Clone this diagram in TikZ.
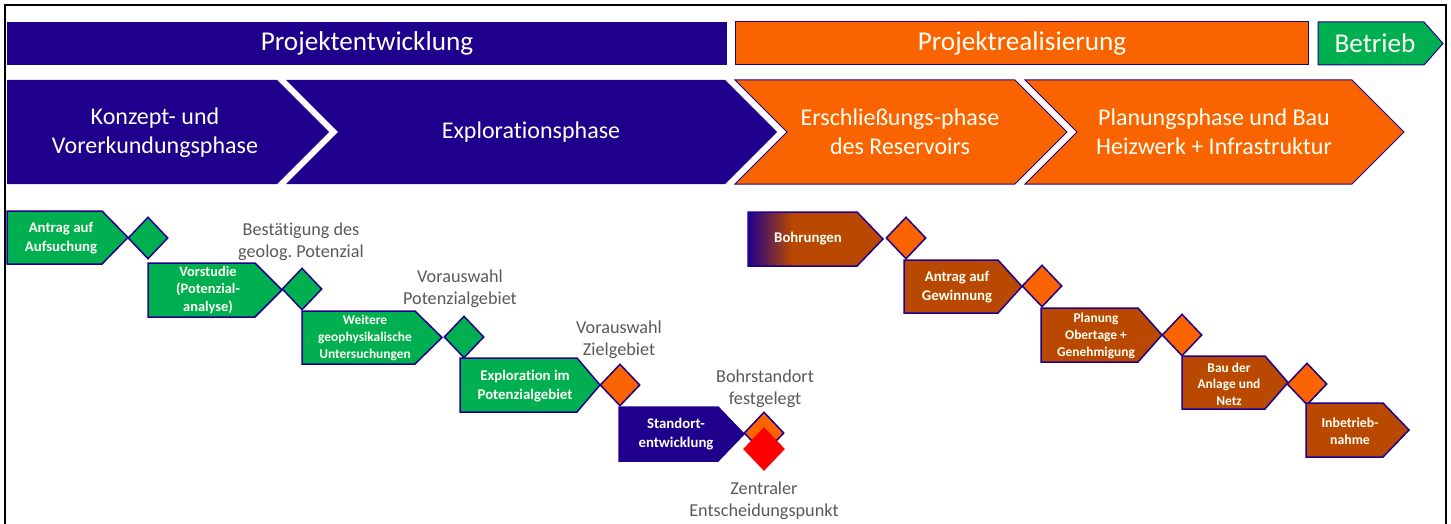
\documentclass[tikz,border=0pt]{standalone}
\usepackage{fontspec}
\setmainfont[Ligatures=NoCommon]{Carlito}
\usetikzlibrary{shapes.geometric}
\frenchspacing
\definecolor{db}{RGB}{30,0,140}
\definecolor{orng}{RGB}{250,100,0}
\definecolor{brwn}{RGB}{185,72,0}
\definecolor{grn}{RGB}{0,176,80}
\definecolor{rd}{RGB}{255,0,0}
\definecolor{gy}{RGB}{89,89,89}
\definecolor{wt}{RGB}{255,255,245}
\newcommand\stepshape[6]{\path[#1] (#2,#5) -- (#3,#5) -- (#4,{(#5+#6)/2}) -- (#3,#6) -- (#2,#6) -- cycle;}
\newcommand\chevshape[7]{\path[#1] (#2,#6) -- (#4,#6) -- (#5,{(#6+#7)/2}) -- (#4,#7) -- (#2,#7) -- (#3,{(#6+#7)/2}) -- cycle;}
\begin{document}
\begin{tikzpicture}[x=0.5pt,y=-0.5pt,
  bigtxt/.style={text=wt,font=\fontsize{13.6}{16}\selectfont},
  chevtxt/.style={text=wt,align=center,font=\fontsize{12}{14.5}\selectfont},
  steptxt/.style={text=wt,align=center,font=\fontsize{7.4}{9.5}\selectfont\bfseries},
  smalltxt/.style={text=wt,align=center,font=\fontsize{6.7}{8.3}\selectfont\bfseries},
  lbl/.style={text=gy,align=center,font=\fontsize{9.1}{11}\selectfont},
  outl/.style={draw=db,line width=0.75pt},
  thin/.style={draw=db,line width=0.5pt},
  dia/.style={diamond,draw=db,line width=0.75pt,minimum width=20pt,minimum height=21pt,inner sep=0pt},
]
\useasboundingbox (0,0) rectangle (1451,524);
% frame
\draw[line width=1pt,black] (5,524) -- (5,5) -- (1446,5) -- (1446,524);
% top bars
\path[fill=db] (7,22) rectangle (727,65);
\node[bigtxt] (pe) at (367,43.5) {Projektentwicklung};
\path[fill=orng,thin] (735,22) rectangle (1308,65);
\node[bigtxt] (pr) at (1022,43.5) {Projektrealisierung};
\stepshape{fill=grn,thin}{1318}{1424}{1443}{22}{65}
\node[bigtxt] (bt) at (1375,43.5) {Betrieb};
% chevrons
\stepshape{fill=db}{7}{277}{329}{80}{184}
\node[chevtxt] (c1) at (155,133) {Konzept- und\\Vorerkundungsphase};
\chevshape{fill=db}{286}{338}{725}{777}{80}{184}
\node[chevtxt] (c2) at (531,132) {Explorationsphase};
\chevshape{fill=orng,thin}{735}{787}{1015}{1067}{80}{184}
\node[chevtxt] (c3) at (900,132) {Erschließungs-phase\\des Reservoirs};
\chevshape{fill=orng,thin}{1025}{1077}{1352}{1404}{80}{184}
\node[chevtxt] (c4) at (1214,132) {Planungsphase und Bau\\Heizwerk + Infrastruktur};
% left process
\stepshape{fill=grn,outl}{7}{102}{128}{211}{264}
\node[steptxt] (s1) at (61,238) {Antrag auf\\Aufsuchung};
\node[dia,fill=grn] (d1) at (148,238) {};
\stepshape{fill=grn,outl}{148}{255}{282}{263}{317}
\node[steptxt,font=\fontsize{7.2}{8.8}\selectfont\bfseries] (s2) at (208,290) {Vorstudie\\(Potenzial-\\analyse)};
\node[dia,fill=grn] (d2) at (302,289) {};
\node[lbl] (l2) at (301,242) {Bestätigung des\\geolog. Potenzial};
\stepshape{fill=grn,outl}{302}{415}{442}{311}{364}
\node[smalltxt] (s3) at (365,338) {Weitere\\geophysikalische\\Untersuchungen};
\node[dia,fill=grn] (d3) at (464,337) {};
\node[lbl] (l3) at (460,289) {Vorauswahl\\Potenzialgebiet};
\stepshape{fill=grn,outl}{460}{577}{600}{358}{412}
\node[steptxt] (s4) at (525,386) {Exploration im\\Potenzialgebiet};
\node[dia,fill=orng] (d4) at (620,385) {};
\node[lbl] (l4) at (619,340) {Vorauswahl\\Zielgebiet};
\stepshape{fill=db,outl}{619}{718}{744}{407}{461}
\node[steptxt] (s5) at (676,434) {Standort-\\entwicklung};
\node[dia,fill=orng] (d5) at (764,433) {};
\node[diamond,fill=rd,minimum width=21pt,minimum height=22pt,inner sep=0pt] (d6) at (764,449) {};
\node[lbl] (l5) at (765,389) {Bohrstandort\\festgelegt};
\node[lbl] (l6) at (764,501) {Zentraler\\Entscheidungspunkt};
% right process
\stepshape{fill=brwn}{748}{857}{883}{212}{266}
\shade[left color=db,right color=brwn] (748,212) rectangle (792,266);
\stepshape{outl}{748}{857}{883}{212}{266}
\node[steptxt] (r1) at (808,239) {Bohrungen};
\node[dia,fill=orng] (e1) at (906,238) {};
\stepshape{fill=brwn,outl}{904}{998}{1022}{260}{313}
\node[steptxt] (r2) at (957,287) {Antrag auf\\Gewinnung};
\node[dia,fill=orng] (e2) at (1042,286) {};
\stepshape{fill=brwn,outl}{1041}{1138}{1162}{308}{362}
\node[smalltxt] (r3) at (1096,336) {Planung\\Obertage +\\Genehmigung};
\node[dia,fill=orng] (e3) at (1182,335) {};
\stepshape{fill=brwn,outl}{1182}{1265}{1288}{356}{409}
\node[smalltxt] (r4) at (1229,384) {Bau der\\Anlage und\\Netz};
\node[dia,fill=orng] (e4) at (1307,384) {};
\stepshape{fill=brwn,outl}{1306}{1383}{1409}{403}{457}
\node[smalltxt,font=\fontsize{6.9}{8.5}\selectfont\bfseries] (r5) at (1350,431) {Inbetrieb-\\nahme};
\end{tikzpicture}
\end{document}
